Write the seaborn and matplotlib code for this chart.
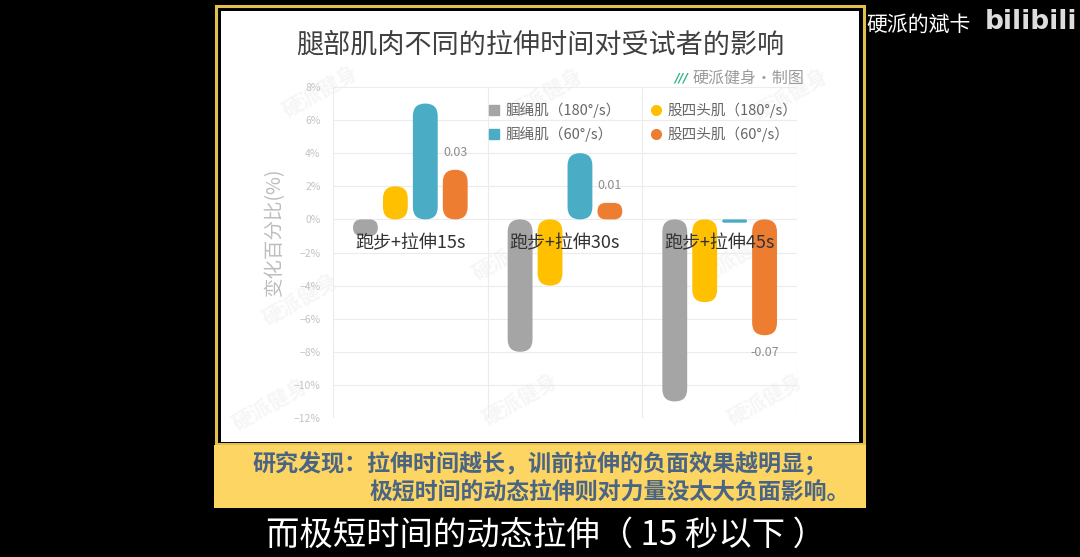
import numpy as np
import pandas as pd
import matplotlib
matplotlib.use("Agg")
import matplotlib.pyplot as plt
from matplotlib.patches import Rectangle, FancyBboxPatch, BoxStyle
from matplotlib.lines import Line2D
from matplotlib.ticker import PercentFormatter
import seaborn as sns

# ---------------- data ----------------
categories = ["跑步+拉伸15s", "跑步+拉伸30s", "跑步+拉伸45s"]
series = ["腘绳肌（180°/s）", "股四头肌（180°/s）", "腘绳肌（60°/s）", "股四头肌（60°/s）"]
ham_180 = [-0.01, -0.08, -0.11]
quad_180 = [0.02, -0.04, -0.05]
ham_60 = [0.07, 0.04, -0.002]
quad_60 = [0.03, 0.01, -0.07]
colors = ["#A5A5A5", "#FFC000", "#4BACC6", "#ED7D31"]
y_ticks = [-0.12, -0.10, -0.08, -0.06, -0.04, -0.02, 0.0, 0.02, 0.04, 0.06, 0.08]

title = "腿部肌肉不同的拉伸时间对受试者的影响"
ylabel = "变化百分比(%)"
credit = "硬派健身·制图"
caption1 = "研究发现：拉伸时间越长，训前拉伸的负面效果越明显；"
caption2 = "极短时间的动态拉伸则对力量没太大负面影响。"
subtitle = "而极短时间的动态拉伸（ 15 秒以下 ）"
channel = "硬派的斌卡"

df = pd.DataFrame({
    "category": categories * 4,
    "series": [s for s in series for _ in categories],
    "value": ham_180 + quad_180 + ham_60 + quad_60,
})

sns.set_style("white")
plt.rcParams["font.family"] = ["Noto Sans CJK SC", "DejaVu Sans"]

W, H = 1080, 557
fig = plt.figure(figsize=(W / 100, H / 100), dpi=100, facecolor="black")

def fx(x):
    return x / W

def fy(y):
    return 1 - y / H

def frect(x0, y0, x1, y1, **kw):
    r = Rectangle((fx(x0), fy(y1)), fx(x1) - fx(x0), fy(y0) - fy(y1),
                  transform=fig.transFigure, **kw)
    fig.add_artist(r)
    return r

# frame / panels
frect(214, 4, 866, 507, facecolor="black", edgecolor="none", zorder=-10)
frect(215.5, 5.5, 864.5, 444, facecolor="none", edgecolor="#E2C04C", lw=2.2, zorder=-9)
frect(221, 11, 858.5, 441.5, facecolor="white", edgecolor="none", zorder=-8)
frect(214, 445, 866, 507.5, facecolor="#FDD562", edgecolor="none", zorder=-8)

# watermarks (faint)
for (wx, wy) in [(320, 92), (545, 95), (790, 95), (300, 300), (510, 255),
                 (735, 258), (270, 405), (520, 400), (765, 400)]:
    fig.text(fx(wx), fy(wy), "硬派健身", rotation=30, fontsize=15, color="#F6F6F6",
             ha="center", va="center", style="italic", fontweight="bold", zorder=-7)

# axes
ax = fig.add_axes([fx(333), fy(418), (797 - 333) / W, (418 - 87) / H])
ax.set_facecolor("none")
ax.set_zorder(1)

sns.barplot(data=df, x="category", y="value", hue="series", order=categories,
            hue_order=series, palette=colors, width=0.774, gap=0.17,
            errorbar=None, legend=False, ax=ax, saturation=1)

ax.set_xlim(-0.5, 2.5)
ax.set_ylim(-0.12, 0.08)
ax.set_yticks(y_ticks)
ax.yaxis.set_major_formatter(PercentFormatter(1.0, decimals=0))
ax.set_xticks([])
ax.set_xticks([-0.5, 0.5, 1.5, 2.5], minor=True)
ax.tick_params(axis="x", which="both", length=0, labelbottom=False)
ax.tick_params(axis="y", length=0, pad=9, labelsize=7.5, labelcolor="#C4C4C4")
ax.grid(True, axis="y", which="major", color="#ECECEC", lw=0.8)
ax.grid(True, axis="x", which="minor", color="#ECECEC", lw=0.8)
ax.set_axisbelow(True)
for s in ax.spines.values():
    s.set_visible(False)
ax.set_xlabel("")
ax.set_ylabel("")

# data labels on last series
last = ax.containers[3]
ax.bar_label(last, labels=[f"{v:.2f}" for v in quad_60], padding=8,
             fontsize=9, color="#8C8C8C")

# rounded bars
pos = ax.get_position()
ax_w_px = pos.width * W
ax_h_px = pos.height * H
aspect = (0.20 / ax_h_px) / (3.0 / ax_w_px)
for rect in list(ax.patches):
    if not isinstance(rect, Rectangle):
        continue
    x, y, w, h = rect.get_x(), rect.get_y(), rect.get_width(), rect.get_height()
    y0 = min(y, y + h)
    hh = abs(h)
    r = min(w / 2, hh / aspect / 2)
    fb = FancyBboxPatch((x, y0), w, hh,
                        boxstyle=BoxStyle.Round(pad=0, rounding_size=r),
                        mutation_aspect=aspect, facecolor=rect.get_facecolor(),
                        edgecolor="none", zorder=2)
    rect.remove()
    ax.add_patch(fb)

# category labels just below zero line
for i, c in enumerate(categories):
    ax.annotate(c, xy=(i, 0), xytext=(0, -24), textcoords="offset pixels",
                ha="center", va="center", fontsize=13, color="#333333", zorder=5)

# legend
handles = []
markers = ["s", "o", "s", "o"]
for s, c, m in zip(series, colors, markers):
    handles.append(Line2D([], [], marker=m, ls="", color=c, markersize=7, label=s))
order = [0, 2, 1, 3]
leg = fig.legend([handles[i] for i in order], [series[i] for i in order],
                 loc="upper left", bbox_to_anchor=(fx(488), fy(102)), ncol=2,
                 frameon=False, fontsize=10.5, borderpad=0, borderaxespad=0,
                 handlelength=0.8, handletextpad=0.4, columnspacing=2.0,
                 labelspacing=0.6, labelcolor="#666666")
leg.set_zorder(3)

# y label
fig.text(fx(275), fy(232), ylabel, rotation=90, ha="center", va="center",
         fontsize=14, color="#BDBDBD")

# title & credit
fig.text(fx(540), fy(45), title, ha="center", va="center", fontsize=19.5, color="#404040")
fig.text(fx(674), fy(78), "///", ha="left", va="center", fontsize=9, color="#2DB082",
         fontweight="bold", style="italic", family="DejaVu Sans")
fig.text(fx(693), fy(78), credit, ha="left", va="center", fontsize=11.5, color="#9A9A9A")

# caption
fig.text(fx(252), fy(465), caption1, ha="left", va="center", fontsize=16.6,
         fontweight="bold", color="#4A6584")
fig.text(fx(370), fy(493), caption2, ha="left", va="center", fontsize=16.5,
         fontweight="bold", color="#4A6584")

# subtitle
fig.text(fx(266), fy(535), subtitle, ha="left", va="center", fontsize=24, color="white")

# channel
fig.text(fx(866), fy(25), channel, ha="left", va="center", fontsize=15, color="white")
fig.text(fx(985), fy(22), "bilibili", ha="left", va="center", fontsize=19,
         color="#DDDDDD", fontweight="bold", family="DejaVu Sans")

fig.savefig("out.png", dpi=100, facecolor="black")
